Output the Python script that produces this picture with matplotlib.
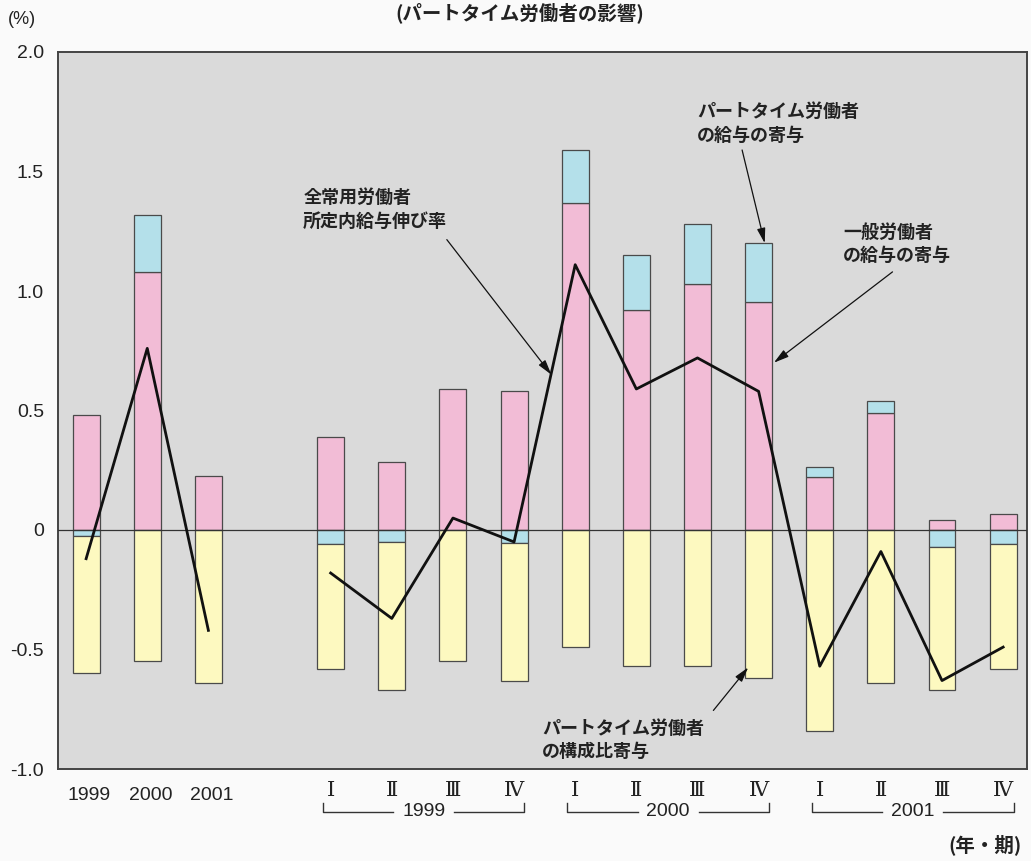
import matplotlib
matplotlib.use("Agg")
import matplotlib.pyplot as plt
import matplotlib.transforms as mtransforms
import numpy as np

plt.rcParams['font.family'] = ['Noto Sans CJK JP', 'DejaVu Sans']

# Period labels: three annual values, then quarters of 1999-2001
years = ["1999", "2000", "2001"]
quarters = ["Ⅰ", "Ⅱ", "Ⅲ", "Ⅳ"]
quarter_years = ["1999", "2000", "2001"]

# Contribution of regular (general) workers' wages (%)
general_wage = [0.48, 1.08, 0.225,
                0.39, 0.285, 0.59, 0.58,
                1.37, 0.92, 1.03, 0.955,
                0.22, 0.49, 0.04, 0.065]
# Contribution of part-time workers' wages (%)
parttime_wage = [-0.025, 0.24, 0.0,
                 -0.06, -0.05, 0.0, -0.055,
                 0.22, 0.23, 0.25, 0.245,
                 0.045, 0.05, -0.07, -0.06]
# Contribution of the part-time share of employment (%)
parttime_share = [-0.575, -0.55, -0.64,
                  -0.52, -0.62, -0.55, -0.575,
                  -0.49, -0.57, -0.57, -0.62,
                  -0.84, -0.64, -0.60, -0.52]
# Growth rate of scheduled earnings, all regular employees (%)
total_growth = [-0.12, 0.76, -0.42,
                -0.18, -0.37, 0.05, -0.05,
                1.11, 0.59, 0.72, 0.58,
                -0.57, -0.09, -0.63, -0.49]

# x positions: annual bars at 0-2, a one-slot gap, quarterly bars at 4-15
xpos = np.array([0, 1, 2] + list(range(4, 16)), dtype=float)

PINK = "#f2bcd6"
BLUE = "#b4e0ea"
YELLOW = "#fdf9c0"
EDGE = "#4a4a4a"
BG = "#dadada"
NUM_FONT = ["Liberation Sans", "DejaVu Sans"]

fig = plt.figure(figsize=(10.31, 8.61), dpi=100)
fig.patch.set_facecolor("#fafafa")
ax = fig.add_axes([58 / 1031, 1 - 769 / 861, (1027 - 58) / 1031, (769 - 52) / 861])
ax.set_facecolor(BG)

gw = np.array(general_wage)
pw = np.array(parttime_wage)
ps = np.array(parttime_share)

width = 0.44
# Positive stack: general wage, then part-time wage when positive
ax.bar(xpos, gw, width=width, bottom=0, color=PINK, edgecolor=EDGE, linewidth=0.9, zorder=2)
pw_bottom = np.where(pw >= 0, gw, 0.0)
mask = pw != 0
ax.bar(xpos[mask], pw[mask], width=width, bottom=pw_bottom[mask], color=BLUE,
       edgecolor=EDGE, linewidth=0.9, zorder=2)
# Negative stack: share contribution below any negative part-time wage contribution
ps_bottom = np.where(pw < 0, pw, 0.0)
ax.bar(xpos, ps, width=width, bottom=ps_bottom, color=YELLOW, edgecolor=EDGE,
       linewidth=0.9, zorder=2)

ax.axhline(0, color="#333333", linewidth=0.9, zorder=3)

tg = np.array(total_growth)
ax.plot(xpos[:3], tg[:3], color="#111111", linewidth=2.0, zorder=4)
ax.plot(xpos[3:], tg[3:], color="#111111", linewidth=2.0, zorder=4)

ax.set_xlim(-0.46, 15.39)
ax.set_ylim(-1.0, 2.0)
ax.set_yticks([-1.0, -0.5, 0, 0.5, 1.0, 1.5, 2.0])
ax.set_yticklabels(["-1.0", "-0.5", "0", "0.5", "1.0", "1.5", "2.0"],
                   family=NUM_FONT, fontsize=14)
ax.tick_params(axis="y", length=0, pad=10, labelcolor="#222222")
ax.set_xticks([])
for s in ax.spines.values():
    s.set_color("#444444")
    s.set_linewidth(1.4)

# Category labels under the axis
trans = mtransforms.blended_transform_factory(ax.transData, fig.transFigure)
for i, y in enumerate(years):
    ax.text(xpos[i] + 0.05, 1 - 795 / 861, y, transform=trans, ha="center", va="center",
            fontsize=14, family=NUM_FONT, color="#222222")
for g, yr in enumerate(quarter_years):
    qx = xpos[3 + 4 * g: 3 + 4 * g + 4]
    for x, q in zip(qx, quarters):
        ax.text(x, 1 - 790 / 861, q, transform=trans, ha="center", va="center",
                fontsize=15, family=["DejaVu Serif"], color="#222222")
    x0, x1 = qx[0] - 0.13, qx[-1] + 0.17
    xm = (x0 + x1) / 2
    ybar = 1 - 812 / 861
    ytop = 1 - 803 / 861
    gap = 0.5
    ax.plot([x0, x0, xm - gap], [ytop, ybar, ybar], transform=trans, color="#333333",
            linewidth=1.0, clip_on=False)
    ax.plot([xm + gap, x1, x1], [ybar, ybar, ytop], transform=trans, color="#333333",
            linewidth=1.0, clip_on=False)
    ax.text(xm, ybar, yr, transform=trans, ha="center", va="center", fontsize=14,
            family=NUM_FONT, color="#222222")

# Callouts
arrow = dict(arrowstyle="-|>,head_length=0.9,head_width=0.25", color="#111111", lw=0.9,
             shrinkA=0, shrinkB=0)
txt_kw = dict(fontsize=13, fontweight="bold", color="#222222", ha="left", va="top",
              linespacing=1.3)

ax.text(3.55, 1.43, "全常用労働者\n所定内給与伸び率", **txt_kw)
ax.annotate("", xy=(7.61, 0.65), xytext=(5.9, 1.215), arrowprops=arrow)

ax.text(9.99, 1.79, "パートタイム労働者\nの給与の寄与", **txt_kw)
ax.annotate("", xy=(11.1, 1.2), xytext=(10.73, 1.59), arrowprops=arrow)

ax.text(12.38, 1.285, "一般労働者\nの給与の寄与", **txt_kw)
ax.annotate("", xy=(11.25, 0.70), xytext=(13.19, 1.08), arrowprops=arrow)

ax.text(7.46, -0.79, "パートタイム労働者\nの構成比寄与", **txt_kw)
ax.annotate("", xy=(10.83, -0.575), xytext=(10.26, -0.755), arrowprops=arrow)

# Title and unit labels
fig.text(520 / 1031, 1 - 13 / 861, "(パートタイム労働者の影響)", ha="center", va="center",
         fontsize=14, fontweight="bold", color="#222222")
fig.text(22 / 1031, 1 - 20 / 861, "(%)", ha="center", va="center", fontsize=13,
         family=NUM_FONT, color="#222222")
fig.text(985 / 1031, 1 - 845 / 861, "(年・期)", ha="center", va="center", fontsize=14,
         fontweight="bold", color="#222222")

fig.savefig("out.png", dpi=100, facecolor=fig.get_facecolor())
